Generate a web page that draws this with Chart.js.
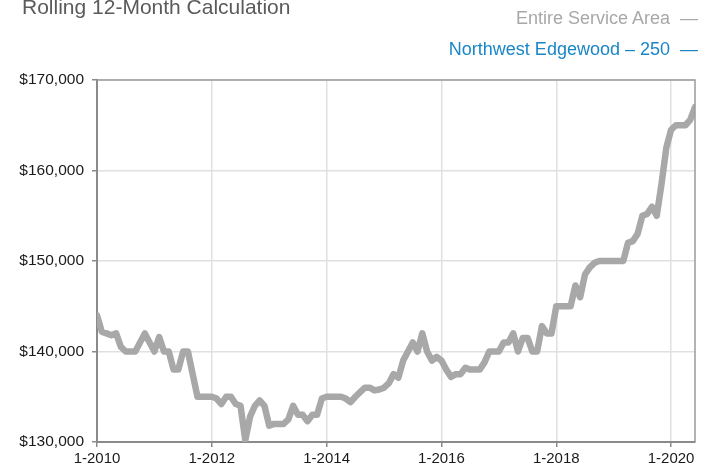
<!DOCTYPE html>
<html>
<head>
<meta charset="utf-8">
<script src="https://cdn.jsdelivr.net/npm/chart.js@4.4.1/dist/chart.umd.min.js"></script>
<style>
  html, body { margin: 0; padding: 0; background: #fff; }
  #wrap { position: relative; width: 706px; height: 468px; overflow: hidden; }
  #c { position: absolute; left: 0; top: 0; }
  .t { position: absolute; font-family: "Liberation Sans", Arial, sans-serif; white-space: nowrap; }
  #title { left: 22px; top: -5px; font-size: 21px; color: #5a5a5a; }
  #leg1 { right: 8px; top: 8px; font-size: 18px; color: #a8a8a8; }
  #leg2 { right: 8px; top: 39px; font-size: 18px; color: #1a86c8; }
</style>
</head>
<body>
<div id="wrap">
  <canvas id="c" width="706" height="468"></canvas>
  <div class="t" id="title">Rolling 12-Month Calculation</div>
  <div class="t" id="leg1">Entire Service Area&nbsp;&nbsp;—</div>
  <div class="t" id="leg2">Northwest Edgewood – 250&nbsp;&nbsp;—</div>
</div>
<script>
// Monthly rolling 12-month values, Jan 2010 .. Jun 2020
const startYear = 2010;
const entireServiceArea = [
  144000, 142200, 142000, 141800, 142000, 140500, 140000, 140000, 140000, 141000, 142000, 141000,
  140000, 141600, 140000, 140000, 138000, 138000, 140000, 140000, 137500, 135000, 135000, 135000,
  135000, 134800, 134200, 135000, 135000, 134200, 134000, 130200, 132800, 134000, 134600, 134000,
  131800, 132000, 132000, 132000, 132500, 134000, 133000, 133000, 132300, 133000, 133000, 134800,
  135000, 135000, 135000, 135000, 134800, 134400, 135000, 135500, 136000, 136000, 135700, 135800,
  136000, 136500, 137500, 137100, 139000, 140000, 141000, 140000, 142000, 140000, 139000, 139400,
  139000, 138000, 137200, 137500, 137500, 138200, 138000, 138000, 138000, 138800, 140000, 140000,
  140000, 141000, 141000, 142000, 140000, 141500, 141500, 140000, 140000, 142800, 142000, 142000,
  145000, 145000, 145000, 145000, 147300, 146000, 148500, 149300, 149800, 150000, 150000, 150000,
  150000, 150000, 150000, 152000, 152200, 153000, 155000, 155200, 156000, 155000, 158500, 162500,
  164500, 165000, 165000, 165000, 165600, 167000
];
const yTicks = [130000, 140000, 150000, 160000, 170000];
const xTickYears = [2010, 2012, 2014, 2016, 2018, 2020];

const points = entireServiceArea.map((v, i) => ({ x: i, y: v }));

const frame = {
  id: 'frame',
  afterDraw(chart) {
    const { ctx, chartArea: a } = chart;
    ctx.save();
    ctx.strokeStyle = '#9a9a9a';
    ctx.lineWidth = 1.5;
    ctx.beginPath();
    ctx.moveTo(a.left, a.top);
    ctx.lineTo(a.right, a.top);
    ctx.lineTo(a.right, a.bottom);
    ctx.stroke();
    ctx.restore();
  }
};

new Chart(document.getElementById('c'), {
  type: 'line',
  data: {
    datasets: [{
      label: 'Entire Service Area',
      data: points,
      borderColor: '#a8a8a8',
      borderWidth: 6.5,
      pointRadius: 0,
      tension: 0,
      borderJoinStyle: 'round',
      borderCapStyle: 'round'
    }]
  },
  options: {
    responsive: false,
    animation: false,
    devicePixelRatio: 1,
    layout: { padding: { top: 80, right: 11, left: 0, bottom: 0 } },
    plugins: { legend: { display: false }, tooltip: { enabled: false } },
    scales: {
      x: {
        type: 'linear',
        min: 0,
        max: 125,
        afterFit(s) { s.height = 26; },
        afterBuildTicks(s) { s.ticks = xTickYears.map(y => ({ value: (y - startYear) * 12 })); },
        ticks: {
          autoSkip: false, maxRotation: 0, padding: 3,
          color: '#1a1a1a',
          font: { family: 'Liberation Sans, Arial, sans-serif', size: 15 },
          callback: (v) => '1-' + (startYear + v / 12)
        },
        grid: { color: '#e0e0e0', lineWidth: 1.5, tickLength: 5, tickColor: '#8a8a8a', drawTicks: true },
        border: { color: '#8a8a8a', width: 2 }
      },
      y: {
        min: 130000,
        max: 170000,
        afterFit(s) { s.width = 97; },
        afterBuildTicks(s) { s.ticks = yTicks.map(v => ({ value: v })); },
        ticks: {
          padding: 8,
          color: '#1a1a1a',
          font: { family: 'Liberation Sans, Arial, sans-serif', size: 15.5 },
          callback: (v) => '$' + v.toLocaleString('en-US')
        },
        grid: { color: '#e0e0e0', lineWidth: 1.5, tickLength: 5, tickColor: '#8a8a8a', drawTicks: true },
        border: { color: '#8a8a8a', width: 2 }
      }
    }
  },
  plugins: [frame]
});
</script>
</body>
</html>
